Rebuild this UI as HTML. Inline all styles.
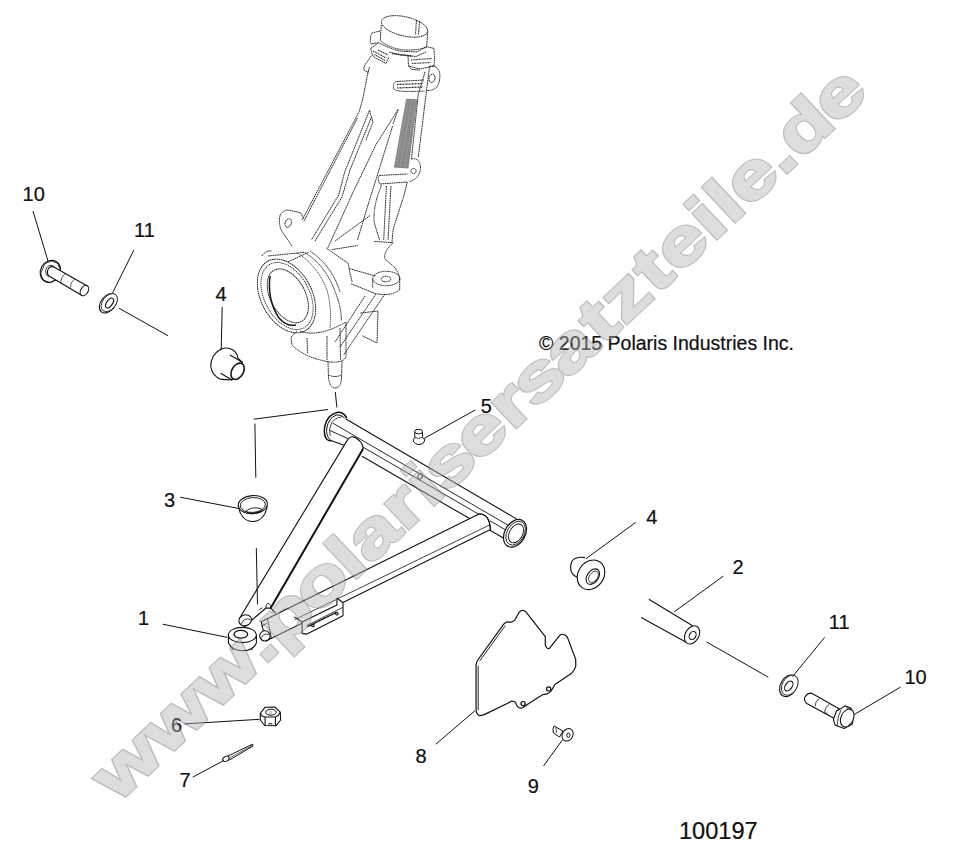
<!DOCTYPE html>
<html><head><meta charset="utf-8">
<style>
html,body{margin:0;padding:0;background:#fff;}
svg{display:block;}
text{font-family:"Liberation Sans",sans-serif;}
</style></head><body>
<svg width="953" height="867" viewBox="0 0 953 867">
<rect width="953" height="867" fill="#fff"/>
<!-- PARTS START -->
<!-- bolt 10 left -->
<g stroke="#111" stroke-width="1.1" fill="#fff" stroke-linejoin="round">
<ellipse cx="50.4" cy="271.4" rx="9.8" ry="11.4" transform="rotate(30 50.4 271.4)"/>
<path d="M45,263.5 L51.5,261 L58,263.5 L60.3,270.5 L57,279 L50,282.5 L43,280 L40.8,273 Z" fill="none" stroke-width="0.8"/>
<path d="M53.9,267 L87.3,285.9 L81.6,295.3 L48.5,275.8 Q46,271.5 49,268 Q51.5,266 53.9,267 Z"/>
<path d="M54.5,266.5 Q49,263.5 46.5,268 Q44,273 48.5,277" fill="none" stroke-width="0.8"/>
<ellipse cx="84.4" cy="290.6" rx="3.6" ry="5.6" transform="rotate(30 84.4 290.6)" />
<path d="M65.5,273.5 Q60.5,277 61,283 M74.6,279.2 Q70.5,282 70.6,287.6" fill="none" stroke-width="0.7"/>
</g>
<!-- washer 11 left -->
<g stroke="#111" stroke-width="1.1" fill="#fff">
<ellipse cx="108.2" cy="303.2" rx="7.2" ry="11" transform="rotate(38 108.2 303.2)"/>
<ellipse cx="109.3" cy="302.6" rx="6.6" ry="10.2" transform="rotate(38 109.3 302.6)" stroke-width="0.8"/>
<ellipse cx="109.6" cy="303" rx="2.9" ry="5.6" transform="rotate(35 109.6 303)"/>
</g>
<!-- bushing 4 left -->
<g stroke="#111" stroke-width="1.1" fill="#fff">
<path d="M220.6,349.3 Q227,346.5 233,350 Q237.5,353 237.7,358 L242.4,362.3 L232,380 Q226,379.5 221,379.4 Q212,376 210.7,366 Q211,355 220.6,349.3 Z"/>
<path d="M229.9,355 L242.4,362.3 M220.6,373.2 L232,380" fill="none"/>
<ellipse cx="237.6" cy="371.3" rx="5.8" ry="8.8" transform="rotate(30 237.6 371.3)" stroke-width="1.6"/>
</g>
<!-- cup 3 -->
<g stroke="#111" stroke-width="1.1" fill="#fff">
<path d="M238.5,505 C239,515 245,521.5 252.8,521.5 C260.5,521.5 266.5,515 267.2,505"/>
<ellipse cx="252.8" cy="504.6" rx="14.6" ry="9" transform="rotate(-4 252.8 504.6)"/>
<ellipse cx="252.8" cy="505" rx="12.6" ry="7.4" transform="rotate(-4 252.8 505)" stroke-width="0.9"/>
<path d="M245,512.3 Q250,506 261,508.5 Q263,510 262,511.5" fill="none" stroke-width="0.9"/>
<path d="M247,512.8 Q254,514.5 261,511.5" fill="none" stroke-width="1.4"/>
</g>
<!-- grease fitting 5 -->
<g stroke="#111" stroke-width="1" fill="#fff">
<path d="M414.8,431.6 L414.8,437.5 Q413,439 413.5,441.5 Q415,444.5 419,444.6 Q423.5,444.5 424.6,441 Q424.8,438.5 422.5,437.3 L422.5,431.6"/>
<ellipse cx="418.6" cy="431.6" rx="3.9" ry="2.3"/>
<path d="M414.8,437.3 Q418.6,439.5 422.5,437.3" fill="none" stroke-width="0.8"/>
</g>
<!-- bushing 4 right -->
<g stroke="#111" stroke-width="1.1" fill="#fff">
<path d="M585,557.6 Q576,556 572,561 Q569.5,567 571.5,572 Q574,577 580,578"/>
<ellipse cx="591" cy="574.8" rx="12.8" ry="15.6" transform="rotate(35 591 574.8)"/>
<ellipse cx="592.8" cy="576.6" rx="5.6" ry="8.6" transform="rotate(35 592.8 576.6)"/>
<ellipse cx="593.5" cy="576.8" rx="4" ry="6.4" transform="rotate(35 593.5 576.8)" stroke-width="0.7"/>
</g>
<!-- tube 2 -->
<g stroke="#111" stroke-width="1.1" fill="#fff">
<path d="M648.8,599.2 L692.6,625.7 L685.7,641.9 L641.2,617.6 Z" stroke="none"/>
<path d="M648.8,599.2 L692.6,625.7 M641.2,617.6 L685.7,641.9" fill="none"/>
<ellipse cx="692.1" cy="634.9" rx="6.8" ry="9.8" transform="rotate(30 692.1 634.9)"/>
<ellipse cx="692.6" cy="635.5" rx="3.2" ry="4.3" transform="rotate(30 692.6 635.5)"/>
</g>
<!-- washer 11 right -->
<g stroke="#111" stroke-width="1.1" fill="#fff">
<ellipse cx="788.6" cy="685.8" rx="8" ry="11.6" transform="rotate(30 788.6 685.8)"/>
<ellipse cx="789.8" cy="685.2" rx="7.4" ry="10.8" transform="rotate(30 789.8 685.2)" stroke-width="0.8"/>
<ellipse cx="788.8" cy="686" rx="3.3" ry="5.5" transform="rotate(35 788.8 686)"/>
</g>
<!-- bolt 10 right -->
<g stroke="#111" stroke-width="1.1" fill="#fff" stroke-linejoin="round">
<path d="M811.3,693.1 L840.3,709.5 L835.3,719 L806.3,703.2 Q803.5,700 805,697 Q807.5,692.8 811.3,693.1 Z"/>
<path d="M818.9,698.8 Q815,702 815.1,706.4 M829.6,704.2 Q825,707 824.6,712.7 Q826,714 827.5,713" fill="none" stroke-width="0.8"/>
<path d="M840.3,708.9 L845.3,705.7 L851,708.3 L853.5,715.2 L852.3,724 L844.1,728.4 L835.3,725.3 L833.4,719.6 L836.5,710.8 Z"/>
<path d="M840.3,708.9 L836.5,710.8 M841,710 Q837.5,716 837,726" fill="none" stroke-width="0.8"/>
<ellipse cx="847.2" cy="718" rx="6.2" ry="9.4" transform="rotate(25 847.2 718)"/>
<path d="M846,707.5 L851.5,710" fill="none" stroke-width="0.8"/>
</g>
<!-- nut 6 -->
<g stroke="#111" stroke-width="1.1" fill="#fff" stroke-linejoin="round">
<path d="M260.3,713.3 L260.3,720 L264.7,725.5 L276,725.8 L280.6,720 L280.3,712.2 L274.7,707 L265.1,707.2 Z"/>
<path d="M260.3,713.3 Q262,717 265.1,717 L275.4,717 Q279,715.5 280.3,712.2" fill="none"/>
<path d="M265.1,717 L265.1,725.5 M275.4,717 L275.4,725.7" fill="none"/>
<path d="M269,725.6 L269,723.5 L271.8,723.5 L271.8,725.6" fill="none" stroke-width="0.8"/>
<ellipse cx="271" cy="712.2" rx="5.3" ry="3" stroke-width="1"/>
<circle cx="270.6" cy="712.6" r="1.1" stroke-width="0.6" stroke="#777"/>
</g>
<!-- cotter pin 7 -->
<g stroke="#111" stroke-width="1" fill="#fff">
<path d="M228,756 L252.5,744.2 L253,746 L229.5,760" fill="none"/>
<ellipse cx="226" cy="758.8" rx="3.4" ry="2.4" transform="rotate(-28 226 758.8)"/>
<path d="M230,757.8 L252.8,745.1" fill="none" stroke-width="0.6"/>
</g>
<!-- screw 9 -->
<g stroke="#111" stroke-width="1" fill="#fff">
<path d="M554,726 L563,731 L559.5,737 L553.5,733 Q552,729 554,726 Z"/>
<path d="M556,727.5 L556.5,733" fill="none" stroke-width="0.7"/>
<ellipse cx="567.6" cy="734.8" rx="5.2" ry="6.6" transform="rotate(30 567.6 734.8)"/>
<ellipse cx="568.4" cy="735.2" rx="1.6" ry="2.2"/>
</g>
<!-- skid plate 8 -->
<g stroke="#111" stroke-width="1.2" fill="none" stroke-linejoin="round">
<path d="M476.07,665.05 L476.07,710.73 Q477,715 479.53,715.57 Q481.5,715.5 483.69,714.88 L512.06,701.04 Q514.5,701 515.52,702.42 Q516.5,705.5 517.6,706.57 Q519.5,708.5 521.75,707.96 Q524.5,707 527.28,704.5 L542.5,694.81 Q544.5,694 546.66,694.12 Q549,693 550.81,691.35 Q553,688 554.96,684.43 L571.58,673.36 Q574.5,670.5 575.73,666.44 L575.73,659.52 L567.42,637.37 Q565.5,634.5 563.27,634.33 Q561,634 559.81,635.29 L554.27,642.21 L549.43,648.44 Q547.5,648.8 546.66,647.75 Q545.3,646 545.28,644.29 L545.28,636.68 L525.9,611.76 Q524,610.2 522.44,610.38 Q520.3,610.6 518.98,612.46 L514.83,620.07 Q513,621.8 510.67,622.15 L506.52,622.15 Q505,622.8 503.75,624.22 L478.15,659.52 Q476.3,662 476.07,665.05 Z"/>
<path d="M478.2,665.8 L478.2,710.3 M479.7,661 L505.3,625.6" stroke-width="0.9"/>
<circle cx="523.1" cy="703.6" r="2.1"/>
<circle cx="548.7" cy="688.9" r="2.1"/>
</g>
<!-- A-arm -->
<g stroke="#111" stroke-width="1.1" fill="none" stroke-linecap="round" stroke-linejoin="round">
<!-- pivot tube lines -->
<path d="M345.9,419 L516,518.6"/>
<path d="M333.2,423.4 L512,527.5" stroke-width="0.9"/>
<path d="M330,430.5 L347.8,438.6 M362.8,447 L478.6,514.2 M490.5,521 L509,532" stroke-width="0.9"/>
<path d="M329.4,439.9 L343.4,445 M362.5,456.6 L469.6,518.6"/>
<path d="M490.4,530.5 L505.5,539.3"/>
<!-- left ring -->
<path d="M346.5,417.5 Q343,411.5 337,412.5 Q327,415 324.6,427 Q323.5,436 327,439.5 Q329,441 331,440.5" stroke-width="1.5"/>
<path d="M344.5,417.8 Q341,414 336.5,415 Q328.5,418 326.8,428 Q326,435.5 329,438.5" stroke-width="1"/>
<path d="M341.5,417 Q335,417.5 331.5,423 Q328.5,429 330,435.5" stroke-width="0.8"/>
<!-- right ring -->
<ellipse cx="515" cy="533.3" rx="10.2" ry="14.8" transform="rotate(30 515 533.3)" fill="#fff" stroke-width="1.2"/>
<ellipse cx="515.6" cy="533.2" rx="8.6" ry="12.8" transform="rotate(30 515.6 533.2)" stroke-width="0.8"/>
<ellipse cx="516" cy="533.4" rx="6.6" ry="10.2" transform="rotate(30 516 533.4)" stroke-width="0.9"/>
<!-- grease hole -->
<ellipse cx="420.2" cy="476.3" rx="2.2" ry="3" transform="rotate(20 420.2 476.3)" stroke-width="0.9"/>
<!-- left arm -->
<path d="M346.6,441.4 Q352,431.5 361.5,443 Q363.5,447 362.7,449.4" fill="#fff"/>
<path d="M346.6,441.4 L239.4,618.5"/>
<path d="M362.7,449.4 L271,607.5" stroke-width="2"/>
<path d="M244,626.7 L266,608 L270.8,608.1 L275.5,613.1" stroke-width="1.2"/>
<path d="M265.8,607.5 Q266,603 269,603.5 Q271,605 270.8,608" stroke-width="0.9"/>
<path d="M259.5,609.5 L262,608" stroke-width="0.9"/>
<!-- lower arm -->
<path d="M261.2,621.8 L479,514 Q489.5,513.5 490.4,529.6 L302,622.8"/>
<path d="M480,515 Q488.5,515 489.3,528.5 L482,532 L472,520 Z" fill="#fff" stroke="none"/>
<path d="M479,514 Q489.5,513.5 490.4,529.6"/>
<path d="M295,619.5 L489.5,525" stroke-width="0.8"/>
<path d="M261.2,621.8 L265.9,641 L302,623.2" fill="#fff"/>
<path d="M267.5,619 L271.5,638.5 M261.8,626 L266.5,623.5" stroke-width="0.8"/>
<path d="M264.5,631 L268,636" stroke-width="1.6"/>
<!-- bracket -->
<path d="M294.6,617.1 L302.1,622 L302.1,633.4 L306.9,634.1 L343,615.7 L343,602.7 L336.9,598 L336.9,605 L302.1,622" fill="#fff"/>
<path d="M307,625.5 L342.5,607.5" stroke-width="0.8"/>
<path d="M308,626.5 L336,612.5" stroke-width="1.3" stroke-dasharray="1.2 0.8"/>
<circle cx="313" cy="625.5" r="1.3"/>
<circle cx="336.9" cy="613.6" r="1.3"/>
<!-- clevis rings -->
<ellipse cx="245.2" cy="620.3" rx="6.4" ry="5.4" transform="rotate(-20 245.2 620.3)" fill="#fff"/>
<path d="M241.5,623.5 Q244,617 250,619.5" stroke-width="0.8"/>
<ellipse cx="264.9" cy="635.9" rx="5.2" ry="5.1" fill="#fff"/>
<path d="M261.5,638 Q263,632.5 268.5,634.5" stroke-width="0.8"/>
<!-- ball joint -->
<path d="M228.3,635 L228.5,643 Q232,650.8 242.5,650.8 Q253,650.8 256.4,643 L256.4,635" fill="#fff"/>
<ellipse cx="242.4" cy="635" rx="14" ry="7.6" fill="#fff"/>
<ellipse cx="240.8" cy="634.3" rx="6.8" ry="3.9" stroke-width="1.3"/>
<path d="M232,648 L232.5,650 M252,648 L252,650" stroke-width="0.8"/>
</g>
<!-- knuckle -->
<g stroke="#1a1a1a" stroke-width="0.9" fill="none" stroke-linejoin="round" stroke-dasharray="1.8 0.5">
<!-- top cylinder -->
<ellipse cx="404.6" cy="26.4" rx="23.6" ry="9.6" transform="rotate(13 404.6 26.4)"/>
<path d="M416.5,20 L415.5,34.5 M419.5,21 L418.5,35"/>
<path d="M381.3,25 L380.2,40.5 Q398,55 426.6,47.5 L427.8,31"/>
<path d="M380,31 L371.8,33 Q369.5,38 371,44 L378.7,42.6"/>
<!-- collar -->
<path d="M370.7,48.4 L378.7,42.6 Q390,49 400.1,51.1 L417.1,52 L426,46.6 L434,48.4 L434.5,58"/>
<path d="M370.7,48.4 Q372,55 374,57 L386,63.5 L389,57"/>
<path d="M373,51 L386,58 M374.5,54.5 L385,60.5 M378,50 L388,55" stroke-dasharray="1.2 0.6" stroke-width="1.1"/>
<path d="M389,52 L400,55 L416,56.5 L426,52"/>
<path d="M392,53.5 L412,56" stroke-dasharray="1 0.5" stroke-width="1.4"/>
<path d="M408,55.5 L408.5,66 L420,69 L434,66 L434.5,58"/>
<path d="M411,60 L432,58.5 M412,63.5 L431,62.5" stroke-dasharray="1 0.6" stroke-width="1.1"/>
<path d="M409,66 L411.5,69.5 L420,70"/>
<!-- nub left -->
<path d="M371.6,55.5 L367,62 Q363.5,66 364,70 L368,72.5 L369.5,67"/>
<!-- shaft left edge -->
<path d="M368.5,70 L362.7,99.2 L359.3,111.4 L302.1,220.2"/>
<path d="M357.5,118 L304,221"/>
<!-- ribs -->
<path d="M369.5,110.4 L344.6,172.3 L338.7,195 L311.4,240"/>
<path d="M371.5,117 L350,170 L342,197 L315,241"/>
<path d="M369.5,110.4 L373,122 L366,140"/>
<path d="M398.1,109.5 L376,144.6 L353.8,190.7 L327.7,248.2"/>
<path d="M392.6,126.1 L366.7,209.2 L357.5,240"/>
<path d="M398.1,109.5 L393,124"/>
<path d="M288.2,261.8 L308.6,252.3 M331.8,249.6 L357.8,245.5 M370,215.5 L334.6,241.4"/>
<path d="M326.4,248.2 L348.2,263.2 L349.6,271.4 L352.3,282.3"/>
<!-- right shaft edge / ear / clip -->
<path d="M429.6,66.2 Q437,65 439.5,72 Q441,82 436,88 Q431,91 427,90.5"/>
<ellipse cx="432" cy="78.3" rx="3" ry="4.2" transform="rotate(15 432 78.3)"/>
<path d="M429.6,66.2 L426.1,94 L418.3,157"/>
<path d="M425,72 L418.3,94 L411.5,158.6"/>
<path d="M424,80 L396,81.5 Q392,84 394,89 Q396,92.5 424.5,91"/>
<path d="M397,84.5 L423,83.5 M397,88 L423,87" stroke-dasharray="1 0.5" stroke-width="1.2"/>
<!-- hatched strip -->
<path d="M406.1,98.8 L417.4,99.3 L408.5,168.5 L393.8,167.5 Z" fill="#3a3a3a" fill-opacity="0.6" stroke="none"/>
<path d="M408,101 L396,165 M412,101 L400,166 M415.5,101 L405,167" stroke="#fff" stroke-opacity="0.5" stroke-width="0.7" stroke-dasharray="1 1.5"/>
<!-- lower ear & bracket -->
<path d="M411,159 Q420,157 420.5,168 Q420,178 409,182"/>
<circle cx="413.5" cy="171" r="2.6"/>
<path d="M379.1,175.5 L407.5,174 M380,184 L407,182 M379.1,175.5 Q377,180 380,184"/>
<path d="M381.5,185.2 Q373,205 374.1,222.3 L379.6,240"/>
<path d="M386.4,186 L383.7,240 M391,186 L388,240"/>
<path d="M407.3,182 L404.1,195 L393.2,229.1 L391.9,242.7"/>
<path d="M374.1,241.4 L393.2,242.7 Q383,252 385,259.1 L393.2,266 Q399,272 400,280"/>
<!-- left ear -->
<path d="M280,215.5 Q278,226 283,233 Q288,240 292,246"/>
<ellipse cx="288.2" cy="223" rx="3" ry="4.4" transform="rotate(20 288.2 223)"/>
<!-- hub -->
<ellipse cx="286.5" cy="296" rx="25.5" ry="39.5" transform="rotate(-28 286.5 296)"/>
<ellipse cx="287" cy="296" rx="22.5" ry="36" transform="rotate(-28 287 296)" stroke-dasharray="1.2 0.8"/>
<ellipse cx="287.8" cy="295.8" rx="17.5" ry="29" transform="rotate(-28 287.8 295.8)"/>
<path d="M270,276 Q267,300 279,318 Q287,327 296,325" stroke-width="1.5" stroke-dasharray="none"/>
<path d="M268,256 L304.6,252.3 Q325,265 334.6,290.5 Q341,305 341.5,321"/>
<path d="M297,253 Q318,266 327,290 Q332,308 330,328" stroke-dasharray="1.2 0.8"/>
<path d="M310,251 Q332,266 340,292"/>
<path d="M262,256 Q266,250 272,251"/>
<path d="M280,215.5 Q283,210 288.2,210 L300.5,212.7 L303.9,218.9"/>
<!-- right boss -->
<path d="M349.6,268.7 L375.5,276"/>
<path d="M351,283.7 L374.1,293.2 Q390,297 399.5,290"/>
<ellipse cx="386.2" cy="278.5" rx="13.5" ry="7.2"/>
<ellipse cx="386" cy="279" rx="4.8" ry="2.8"/>
<path d="M372.7,279 L372.7,288 M399.7,279 L399.7,290"/>
<!-- lower bracket -->
<path d="M385,294 L343.8,354.6 M376,294 L340,347 M365,296 L335,342"/>
<path d="M360.4,313 L378,311 L377,343 L362.5,335.9"/>
<!-- bottom block -->
<path d="M297,331 L291,337 L292,345 Q305,358 330,362 Q345,363 346,356 L346,322"/>
<path d="M307,338 L307.5,353 M327,336 L327,360 M340,328 L340.5,360"/>
<path d="M300,331 Q318,338 346,322"/>
<!-- stud -->
<path d="M328,361 L328.5,378 Q330,388 335,388 Q341,388 341.5,378 L342,361"/>
<path d="M328.5,375 Q335,378 341.5,375"/>
</g>
<!-- PARTS END -->
<!-- leader lines -->
<g stroke="#111" stroke-width="1" fill="none">
<line x1="33" y1="211" x2="48" y2="261"/>
<line x1="133.9" y1="250" x2="112.6" y2="292.8"/>
<line x1="118.9" y1="308.2" x2="168.2" y2="335.8"/>
<line x1="222.2" y1="307.2" x2="221.2" y2="350.2"/>
<line x1="335.3" y1="392" x2="336.9" y2="407.5"/>
<line x1="253.7" y1="419.2" x2="328" y2="409.5"/>
<line x1="254.9" y1="423.6" x2="255.8" y2="477.7"/>
<line x1="256.3" y1="548" x2="257.5" y2="604.4"/>
<line x1="475.3" y1="409.9" x2="424.1" y2="438.5"/>
<line x1="180.1" y1="497.2" x2="238.9" y2="508.5"/>
<line x1="162.7" y1="624.2" x2="227.3" y2="637.4"/>
<line x1="184.6" y1="723.9" x2="259.6" y2="719.3"/>
<line x1="192.7" y1="777.2" x2="223.9" y2="760.4"/>
<line x1="475" y1="710.7" x2="435.8" y2="744.2"/>
<line x1="562.6" y1="739.6" x2="543.5" y2="766"/>
<line x1="635.7" y1="522.4" x2="585.8" y2="558.8"/>
<line x1="723.3" y1="576.1" x2="674.2" y2="611.9"/>
<line x1="706.5" y1="641.9" x2="768.3" y2="677.2"/>
<line x1="824.6" y1="637.4" x2="792.5" y2="676.6"/>
<line x1="900.5" y1="687.1" x2="854.4" y2="714.4"/>
</g>
<!-- labels -->
<g fill="#111" font-size="20" stroke="#111" stroke-width="0.22">
<text x="22.6" y="200.8">10</text>
<text x="134.0" y="237.4">11</text>
<text x="215.6" y="301.0">4</text>
<text x="480.8" y="412.5">5</text>
<text x="164.1" y="507.0">3</text>
<text x="137.9" y="625.4">1</text>
<text x="171.0" y="731.5">6</text>
<text x="179.5" y="786.5">7</text>
<text x="415.6" y="762.6">8</text>
<text x="527.7" y="792.6">9</text>
<text x="646.2" y="524.2">4</text>
<text x="732.5" y="573.8">2</text>
<text x="828.8" y="629.0">11</text>
<text x="904.4" y="684.4">10</text>
<text x="539" y="350.2" font-size="19.5">© 2015 Polaris Industries Inc.</text>
<text x="679" y="838.8" font-size="23.6">100197</text>
</g>
<!-- watermark -->
<g opacity="0.45" font-size="65.4" font-weight="bold" style="font-kerning:none" stroke-linejoin="miter">
<g>
<text x="0" y="0" transform="translate(119.8 801.0) rotate(-43.27) scale(1.29 1)" fill="#6c6c6c" stroke="#6c6c6c" stroke-width="3.8" vector-effect="non-scaling-stroke"><tspan x="-2.3">w</tspan><tspan dx="1.15">w</tspan><tspan dx="1.15">w</tspan></text>
<text x="0" y="0" text-anchor="middle" transform="translate(272.68 657.06) rotate(-43.27) scale(1.29 1)" fill="#6c6c6c" stroke="#6c6c6c" stroke-width="3.8" vector-effect="non-scaling-stroke">.</text>
<text x="0" y="0" text-anchor="middle" transform="translate(299.80 631.53) rotate(-43.27) scale(1.29 1)" fill="#6c6c6c" stroke="#6c6c6c" stroke-width="3.8" vector-effect="non-scaling-stroke">p</text>
<text x="0" y="0" text-anchor="middle" transform="translate(334.76 598.61) rotate(-43.27) scale(1.29 1)" fill="#6c6c6c" stroke="#6c6c6c" stroke-width="3.8" vector-effect="non-scaling-stroke">o</text>
<text x="0" y="0" text-anchor="middle" transform="translate(361.23 573.69) rotate(-43.27) scale(1.29 1)" fill="#6c6c6c" stroke="#6c6c6c" stroke-width="3.8" vector-effect="non-scaling-stroke">l</text>
<text x="0" y="0" text-anchor="middle" transform="translate(387.23 549.21) rotate(-43.27) scale(1.29 1)" fill="#6c6c6c" stroke="#6c6c6c" stroke-width="3.8" vector-effect="non-scaling-stroke">a</text>
<text x="0" y="0" text-anchor="middle" transform="translate(416.87 521.30) rotate(-43.27) scale(1.29 1)" fill="#6c6c6c" stroke="#6c6c6c" stroke-width="3.8" vector-effect="non-scaling-stroke">r</text>
<text x="0" y="0" text-anchor="middle" transform="translate(438.79 500.67) rotate(-43.27) scale(1.29 1)" fill="#6c6c6c" stroke="#6c6c6c" stroke-width="3.8" vector-effect="non-scaling-stroke">i</text>
<text x="0" y="0" text-anchor="middle" transform="translate(463.08 477.80) rotate(-43.27) scale(1.29 1)" fill="#6c6c6c" stroke="#6c6c6c" stroke-width="3.8" vector-effect="non-scaling-stroke">s</text>
<text x="0" y="0" text-anchor="middle" transform="translate(494.92 447.82) rotate(-43.27) scale(1.29 1)" fill="#6c6c6c" stroke="#6c6c6c" stroke-width="3.8" vector-effect="non-scaling-stroke">e</text>
<text x="0" y="0" text-anchor="middle" transform="translate(524.40 420.07) rotate(-43.27) scale(1.29 1)" fill="#6c6c6c" stroke="#6c6c6c" stroke-width="3.8" vector-effect="non-scaling-stroke">r</text>
<text x="0" y="0" text-anchor="middle" transform="translate(552.32 393.78) rotate(-43.27) scale(1.29 1)" fill="#6c6c6c" stroke="#6c6c6c" stroke-width="3.8" vector-effect="non-scaling-stroke">s</text>
<text x="0" y="0" text-anchor="middle" transform="translate(584.34 363.64) rotate(-43.27) scale(1.29 1)" fill="#6c6c6c" stroke="#6c6c6c" stroke-width="3.8" vector-effect="non-scaling-stroke">a</text>
<text x="0" y="0" text-anchor="middle" transform="translate(613.02 336.63) rotate(-43.27) scale(1.29 1)" fill="#6c6c6c" stroke="#6c6c6c" stroke-width="3.8" vector-effect="non-scaling-stroke">t</text>
<text x="0" y="0" text-anchor="middle" transform="translate(640.05 311.19) rotate(-43.27) scale(1.29 1)" fill="#6c6c6c" stroke="#6c6c6c" stroke-width="3.8" vector-effect="non-scaling-stroke">z</text>
<text x="0" y="0" text-anchor="middle" transform="translate(667.07 285.74) rotate(-43.27) scale(1.29 1)" fill="#6c6c6c" stroke="#6c6c6c" stroke-width="3.8" vector-effect="non-scaling-stroke">t</text>
<text x="0" y="0" text-anchor="middle" transform="translate(695.59 258.89) rotate(-43.27) scale(1.29 1)" fill="#6c6c6c" stroke="#6c6c6c" stroke-width="3.8" vector-effect="non-scaling-stroke">e</text>
<text x="0" y="0" text-anchor="middle" transform="translate(721.43 234.57) rotate(-43.27) scale(1.29 1)" fill="#6c6c6c" stroke="#6c6c6c" stroke-width="3.8" vector-effect="non-scaling-stroke">i</text>
<text x="0" y="0" text-anchor="middle" transform="translate(739.70 217.36) rotate(-43.27) scale(1.29 1)" fill="#6c6c6c" stroke="#6c6c6c" stroke-width="3.8" vector-effect="non-scaling-stroke">l</text>
<text x="0" y="0" text-anchor="middle" transform="translate(765.54 193.04) rotate(-43.27) scale(1.29 1)" fill="#6c6c6c" stroke="#6c6c6c" stroke-width="3.8" vector-effect="non-scaling-stroke">e</text>
<text x="0" y="0" text-anchor="middle" transform="translate(791.73 168.38) rotate(-43.27) scale(1.29 1)" fill="#6c6c6c" stroke="#6c6c6c" stroke-width="3.8" vector-effect="non-scaling-stroke">.</text>
<text x="0" y="0" text-anchor="middle" transform="translate(818.85 142.85) rotate(-43.27) scale(1.29 1)" fill="#6c6c6c" stroke="#6c6c6c" stroke-width="3.8" vector-effect="non-scaling-stroke">d</text>
<text x="0" y="0" text-anchor="middle" transform="translate(853.17 110.53) rotate(-43.27) scale(1.29 1)" fill="#6c6c6c" stroke="#6c6c6c" stroke-width="3.8" vector-effect="non-scaling-stroke">e</text>
</g>
<g>
<text x="0" y="0" transform="translate(119.8 801.0) rotate(-43.27) scale(1.29 1)" fill="#b3b3b3" stroke="#b3b3b3" stroke-width="1.4" vector-effect="non-scaling-stroke"><tspan x="-2.3">w</tspan><tspan dx="1.15">w</tspan><tspan dx="1.15">w</tspan></text>
<text x="0" y="0" text-anchor="middle" transform="translate(272.68 657.06) rotate(-43.27) scale(1.29 1)" fill="#b3b3b3" stroke="#b3b3b3" stroke-width="1.4" vector-effect="non-scaling-stroke">.</text>
<text x="0" y="0" text-anchor="middle" transform="translate(299.80 631.53) rotate(-43.27) scale(1.29 1)" fill="#b3b3b3" stroke="#b3b3b3" stroke-width="1.4" vector-effect="non-scaling-stroke">p</text>
<text x="0" y="0" text-anchor="middle" transform="translate(334.76 598.61) rotate(-43.27) scale(1.29 1)" fill="#b3b3b3" stroke="#b3b3b3" stroke-width="1.4" vector-effect="non-scaling-stroke">o</text>
<text x="0" y="0" text-anchor="middle" transform="translate(361.23 573.69) rotate(-43.27) scale(1.29 1)" fill="#b3b3b3" stroke="#b3b3b3" stroke-width="1.4" vector-effect="non-scaling-stroke">l</text>
<text x="0" y="0" text-anchor="middle" transform="translate(387.23 549.21) rotate(-43.27) scale(1.29 1)" fill="#b3b3b3" stroke="#b3b3b3" stroke-width="1.4" vector-effect="non-scaling-stroke">a</text>
<text x="0" y="0" text-anchor="middle" transform="translate(416.87 521.30) rotate(-43.27) scale(1.29 1)" fill="#b3b3b3" stroke="#b3b3b3" stroke-width="1.4" vector-effect="non-scaling-stroke">r</text>
<text x="0" y="0" text-anchor="middle" transform="translate(438.79 500.67) rotate(-43.27) scale(1.29 1)" fill="#b3b3b3" stroke="#b3b3b3" stroke-width="1.4" vector-effect="non-scaling-stroke">i</text>
<text x="0" y="0" text-anchor="middle" transform="translate(463.08 477.80) rotate(-43.27) scale(1.29 1)" fill="#b3b3b3" stroke="#b3b3b3" stroke-width="1.4" vector-effect="non-scaling-stroke">s</text>
<text x="0" y="0" text-anchor="middle" transform="translate(494.92 447.82) rotate(-43.27) scale(1.29 1)" fill="#b3b3b3" stroke="#b3b3b3" stroke-width="1.4" vector-effect="non-scaling-stroke">e</text>
<text x="0" y="0" text-anchor="middle" transform="translate(524.40 420.07) rotate(-43.27) scale(1.29 1)" fill="#b3b3b3" stroke="#b3b3b3" stroke-width="1.4" vector-effect="non-scaling-stroke">r</text>
<text x="0" y="0" text-anchor="middle" transform="translate(552.32 393.78) rotate(-43.27) scale(1.29 1)" fill="#b3b3b3" stroke="#b3b3b3" stroke-width="1.4" vector-effect="non-scaling-stroke">s</text>
<text x="0" y="0" text-anchor="middle" transform="translate(584.34 363.64) rotate(-43.27) scale(1.29 1)" fill="#b3b3b3" stroke="#b3b3b3" stroke-width="1.4" vector-effect="non-scaling-stroke">a</text>
<text x="0" y="0" text-anchor="middle" transform="translate(613.02 336.63) rotate(-43.27) scale(1.29 1)" fill="#b3b3b3" stroke="#b3b3b3" stroke-width="1.4" vector-effect="non-scaling-stroke">t</text>
<text x="0" y="0" text-anchor="middle" transform="translate(640.05 311.19) rotate(-43.27) scale(1.29 1)" fill="#b3b3b3" stroke="#b3b3b3" stroke-width="1.4" vector-effect="non-scaling-stroke">z</text>
<text x="0" y="0" text-anchor="middle" transform="translate(667.07 285.74) rotate(-43.27) scale(1.29 1)" fill="#b3b3b3" stroke="#b3b3b3" stroke-width="1.4" vector-effect="non-scaling-stroke">t</text>
<text x="0" y="0" text-anchor="middle" transform="translate(695.59 258.89) rotate(-43.27) scale(1.29 1)" fill="#b3b3b3" stroke="#b3b3b3" stroke-width="1.4" vector-effect="non-scaling-stroke">e</text>
<text x="0" y="0" text-anchor="middle" transform="translate(721.43 234.57) rotate(-43.27) scale(1.29 1)" fill="#b3b3b3" stroke="#b3b3b3" stroke-width="1.4" vector-effect="non-scaling-stroke">i</text>
<text x="0" y="0" text-anchor="middle" transform="translate(739.70 217.36) rotate(-43.27) scale(1.29 1)" fill="#b3b3b3" stroke="#b3b3b3" stroke-width="1.4" vector-effect="non-scaling-stroke">l</text>
<text x="0" y="0" text-anchor="middle" transform="translate(765.54 193.04) rotate(-43.27) scale(1.29 1)" fill="#b3b3b3" stroke="#b3b3b3" stroke-width="1.4" vector-effect="non-scaling-stroke">e</text>
<text x="0" y="0" text-anchor="middle" transform="translate(791.73 168.38) rotate(-43.27) scale(1.29 1)" fill="#b3b3b3" stroke="#b3b3b3" stroke-width="1.4" vector-effect="non-scaling-stroke">.</text>
<text x="0" y="0" text-anchor="middle" transform="translate(818.85 142.85) rotate(-43.27) scale(1.29 1)" fill="#b3b3b3" stroke="#b3b3b3" stroke-width="1.4" vector-effect="non-scaling-stroke">d</text>
<text x="0" y="0" text-anchor="middle" transform="translate(853.17 110.53) rotate(-43.27) scale(1.29 1)" fill="#b3b3b3" stroke="#b3b3b3" stroke-width="1.4" vector-effect="non-scaling-stroke">e</text>
</g>
</g>
</svg>
</body></html>
